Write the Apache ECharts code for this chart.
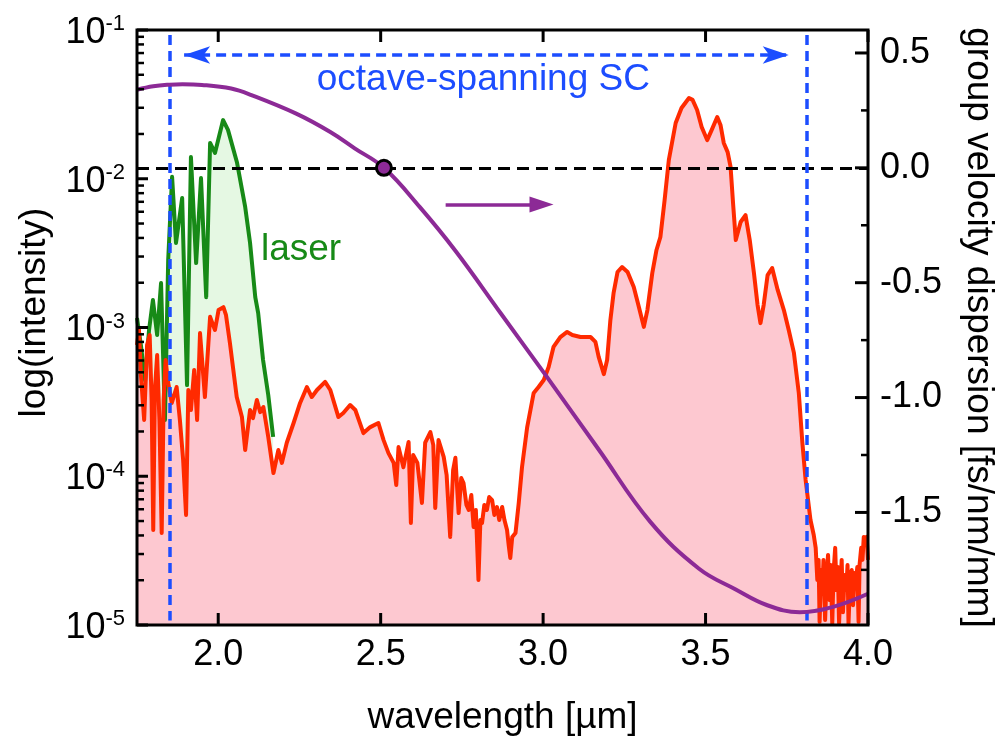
<!DOCTYPE html>
<html>
<head>
<meta charset="utf-8">
<script src="https://cdn.jsdelivr.net/npm/echarts@6/dist/echarts.min.js"></script>
<style>
  html, body { margin: 0; padding: 0; background: #fff; }
  #chart { width: 1007px; height: 736px; }
</style>
</head>
<body>
<div id="chart"></div>
<script>
// Supercontinuum spectrum (red), pump laser spectrum (green) and fibre GVD (purple)

const scWavelength = [
  1.750, 1.756, 1.762, 1.772, 1.781, 1.789, 1.795, 1.800, 1.805, 1.812, 1.819, 1.826, 1.832, 1.838,
  1.846, 1.857, 1.872, 1.882, 1.892, 1.901, 1.908, 1.916, 1.926, 1.935, 1.944, 1.959, 1.975, 1.984,
  1.990, 2.001, 2.016, 2.024, 2.036, 2.057, 2.073, 2.083, 2.098, 2.107, 2.119, 2.129, 2.139, 2.154,
  2.170, 2.185, 2.196, 2.211, 2.232, 2.252, 2.273, 2.288, 2.304, 2.329, 2.345, 2.370, 2.385, 2.406,
  2.422, 2.447, 2.468, 2.493, 2.509, 2.524, 2.540, 2.548, 2.555, 2.570, 2.586, 2.593, 2.600, 2.613,
  2.627, 2.637, 2.653, 2.662, 2.668, 2.678, 2.694, 2.703, 2.714, 2.723, 2.730, 2.740, 2.748, 2.755,
  2.764, 2.771, 2.779, 2.786, 2.793, 2.801, 2.807, 2.812, 2.819, 2.827, 2.834, 2.843, 2.850, 2.858,
  2.865, 2.874, 2.881, 2.889, 2.894, 2.899, 2.905, 2.915, 2.925, 2.935, 2.951, 2.971, 2.986, 3.002,
  3.017, 3.032, 3.053, 3.074, 3.090, 3.115, 3.146, 3.161, 3.171, 3.187, 3.197, 3.207, 3.217, 3.229,
  3.243, 3.260, 3.279, 3.293, 3.310, 3.321, 3.336, 3.349, 3.361, 3.374, 3.387, 3.408, 3.426, 3.449,
  3.460, 3.474, 3.488, 3.505, 3.519, 3.536, 3.546, 3.556, 3.568, 3.577, 3.585, 3.593, 3.608, 3.623,
  3.636, 3.649, 3.660, 3.669, 3.679, 3.691, 3.705, 3.722, 3.741, 3.756, 3.772, 3.787, 3.798, 3.808,
  3.823, 3.833, 3.839, 3.844, 3.848, 3.851, 3.856, 3.860, 3.863, 3.868, 3.873, 3.877, 3.882, 3.885,
  3.890, 3.894, 3.899, 3.903, 3.907, 3.911, 3.916, 3.919, 3.923, 3.928, 3.933, 3.937, 3.940, 3.945,
  3.950, 3.954, 3.959, 3.962, 3.967, 3.971, 3.974, 3.979, 3.983, 3.987, 3.991, 3.996, 4.000
];
const scIntensity = [
  7.62e-4, 9.62e-4, 4.80e-4, 2.39e-4, 7.62e-4, 8.91e-4, 3.26e-4, 4.35e-5, 3.80e-4, 6.53e-4, 2.39e-4, 4.16e-5, 3.26e-4, 6.05e-4,
  4.24e-4, 3.11e-4, 3.98e-4, 2.39e-4, 1.29e-4, 5.49e-5, 3.80e-4, 2.79e-4, 5.18e-4, 2.39e-4, 9.18e-4, 3.41e-4, 1.18e-3, 1.04e-3,
  9.62e-4, 1.31e-3, 1.37e-3, 1.21e-3, 7.87e-4, 3.41e-4, 2.50e-4, 1.50e-4, 2.79e-4, 2.46e-4, 3.26e-4, 2.70e-4, 2.92e-4, 1.84e-4,
  1.05e-4, 1.50e-4, 1.23e-4, 1.68e-4, 2.28e-4, 3.11e-4, 3.98e-4, 3.41e-4, 3.80e-4, 4.31e-4, 3.80e-4, 2.50e-4, 2.66e-4, 3.01e-4,
  2.79e-4, 1.95e-4, 2.14e-4, 2.28e-4, 1.75e-4, 1.43e-4, 1.23e-4, 8.73e-5, 1.57e-4, 1.15e-4, 1.70e-4, 4.85e-5, 1.39e-4, 1.23e-4,
  6.61e-5, 1.68e-4, 1.98e-4, 1.62e-4, 6.12e-5, 1.75e-4, 1.35e-4, 1.02e-4, 3.91e-5, 1.10e-4, 1.33e-4, 5.66e-5, 9.73e-5, 9.01e-5,
  6.41e-5, 5.93e-5, 7.48e-5, 4.56e-5, 5.93e-5, 2.01e-5, 5.08e-5, 4.85e-5, 6.41e-5, 5.93e-5, 7.25e-5, 6.92e-5, 5.49e-5, 6.21e-5,
  5.08e-5, 6.21e-5, 5.08e-5, 4.35e-5, 3.45e-5, 2.82e-5, 3.91e-5, 4.16e-5, 6.61e-5, 1.15e-4, 2.14e-4, 3.63e-4, 3.98e-4, 4.44e-4,
  5.42e-4, 7.40e-4, 8.63e-4, 9.33e-4, 8.91e-4, 8.63e-4, 8.63e-4, 8.00e-4, 6.34e-4, 4.86e-4, 6.05e-4, 1.12e-3, 1.71e-3, 2.36e-3,
  2.55e-3, 2.36e-3, 1.87e-3, 1.42e-3, 1.01e-3, 1.31e-3, 2.32e-3, 3.32e-3, 4.06e-3, 7.19e-3, 1.34e-2, 2.37e-2, 2.99e-2, 3.49e-2,
  3.39e-2, 2.90e-2, 2.23e-2, 1.82e-2, 2.13e-2, 2.60e-2, 2.30e-2, 1.74e-2, 1.51e-2, 1.20e-2, 6.67e-3, 3.87e-3, 5.12e-3, 5.70e-3,
  3.87e-3, 2.32e-3, 1.42e-3, 1.07e-3, 1.42e-3, 2.25e-3, 2.51e-3, 1.79e-3, 1.31e-3, 9.62e-4, 6.75e-4, 3.63e-4, 1.68e-4, 9.44e-5,
  5.08e-5, 4.03e-5, 3.30e-5, 2.01e-5, 2.74e-5, 1.05e-5, 2.34e-5, 1.86e-5, 2.74e-5, 1.08e-5, 2.17e-5, 2.96e-5, 1.47e-5, 2.53e-5,
  1.02e-5, 2.27e-5, 3.30e-5, 1.72e-5, 2.45e-5, 1.03e-5, 2.01e-5, 2.74e-5, 1.22e-5, 2.17e-5, 1.72e-5, 2.53e-5, 1.02e-5, 2.07e-5,
  2.34e-5, 1.36e-5, 2.24e-5, 1.86e-5, 2.45e-5, 1.05e-5, 2.53e-5, 3.30e-5, 2.74e-5, 3.91e-5, 3.73e-5, 3.91e-5, 2.74e-5
];

const laserWavelength = [
  1.750, 1.762, 1.775, 1.787, 1.799, 1.812, 1.824, 1.836, 1.846, 1.858, 1.870, 1.889, 1.904, 1.916,
  1.932, 1.947, 1.963, 1.975, 1.990, 2.015, 2.030, 2.058, 2.083, 2.098, 2.114, 2.123, 2.138, 2.154, 2.169
];
const laserIntensity = [
  1.16e-3, 7.6e-4, 4.4e-4, 9.6e-4, 1.53e-3, 8.9e-4, 1.99e-3, 2.39e-4, 2.84e-3, 1.03e-2, 3.70e-3, 7.43e-3, 4.1e-4, 1.40e-2,
  2.71e-3, 1.01e-2, 1.60e-3, 1.74e-2, 1.49e-2, 2.48e-2, 2.13e-2, 1.28e-2, 6.46e-3, 3.70e-3, 1.60e-3, 1.25e-3, 6.05e-4, 3.52e-4, 1.84e-4
];

const gvdWavelength = [
  1.75, 1.80, 1.85, 1.89, 1.95, 2.04, 2.10, 2.24, 2.345, 2.42, 2.51, 2.62, 2.73, 2.87,
  3.01, 3.17, 3.33, 3.48, 3.59, 3.69, 3.79, 3.89, 4.00
];
const gvdValue = [
  0.340, 0.355, 0.362, 0.364, 0.361, 0.345, 0.318, 0.236, 0.156, 0.085, 0.0, -0.17, -0.361, -0.634,
  -0.907, -1.224, -1.541, -1.745, -1.833, -1.904, -1.934, -1.912, -1.854
];

// zero-dispersion wavelength marked on the GVD curve
const zeroDispersion = [2.51, 0.0];
// limits of the octave-spanning supercontinuum
const scEdges = [1.85, 3.81];

const wavelengthTicks = [2.0, 2.5, 3.0, 3.5, 4.0];
const gvdTicks = [-1.5, -1.0, -0.5, 0.0, 0.5];
const gvdMinorTicks = [-1.75, -1.25, -0.75, -0.25, 0.25];
const intensityTicks = [1e-5, 1e-4, 1e-3, 1e-2, 1e-1];

const zip = (xs, ys) => xs.map((x, i) => [x, ys[i]]);

// minor ticks of the log axis at 2..9 x 10^n
const intensityMinorTicks = [];
for (let e = -5; e < -1; e++) {
  for (let m = 2; m <= 9; m++) intensityMinorTicks.push(+(m * Math.pow(10, e)).toPrecision(3));
}

const FONT = "'Liberation Sans', Arial, Helvetica, sans-serif";
const BLACK = '#000';
const RED = '#ff2a00';
const PINK = '#fdc8d0';
const GREEN = '#178a17';
const LIGHTGREEN = '#e5f8e3';
const PURPLE = '#8c2a96';
const BLUE = '#1c4dff';

const tickLabel = { fontFamily: FONT, fontSize: 36, color: BLACK };

const chart = echarts.init(document.getElementById('chart'), null, { renderer: 'canvas' });

const option = {
  animation: false,
  backgroundColor: '#fff',
  grid: { left: 137, right: 139, top: 30, bottom: 111, outerBoundsMode: 'none' },
  xAxis: [
    {
      type: 'value', position: 'bottom', min: 1.75, max: 4.0,
      name: 'wavelength [µm]', nameLocation: 'middle', nameGap: 74,
      nameTextStyle: { fontFamily: FONT, fontSize: 37, color: BLACK },
      axisLine: { show: false, onZero: false },
      axisTick: { show: false },
      axisLabel: Object.assign({ margin: 12, customValues: wavelengthTicks, formatter: v => v.toFixed(1) }, tickLabel),
      splitLine: { show: false }
    }
  ],
  yAxis: [
    {
      type: 'log', logBase: 10, position: 'left', min: 1e-5, max: 1e-1,
      name: 'log(intensity)', nameLocation: 'middle', nameGap: 84,
      nameTextStyle: { fontFamily: FONT, fontSize: 37, color: BLACK, padding: [0, 0, 0, 30] },
      axisLine: { show: false, onZero: false },
      axisTick: { show: false },
      axisLabel: {
        margin: 12,
        padding: [6, 0, 0, 0],
        formatter: v => '{b|10}{s|' + Math.round(Math.log10(v)) + '}',
        rich: {
          b: { fontFamily: FONT, fontSize: 36, color: BLACK, lineHeight: 40 },
          s: { fontFamily: FONT, fontSize: 22, color: BLACK, lineHeight: 24, verticalAlign: 'top' }
        }
      },
      splitLine: { show: false }
    },
    {
      type: 'value', position: 'right', min: -1.99, max: 0.6,
      name: 'group velocity dispersion [fs/nm/mm]', nameLocation: 'middle', nameGap: 92, nameRotate: -90,
      nameTextStyle: { fontFamily: FONT, fontSize: 37, color: BLACK },
      axisLine: { show: false, onZero: false },
      axisTick: { show: false },
      axisLabel: Object.assign({ margin: 12, customValues: gvdTicks, formatter: v => v.toFixed(1) }, tickLabel),
      splitLine: { show: false }
    }
  ],
  series: [
    {
      name: 'laser fill', type: 'line', xAxisIndex: 0, yAxisIndex: 0, z: 1,
      data: zip(laserWavelength, laserIntensity), showSymbol: false, silent: true,
      lineStyle: { width: 0 }, areaStyle: { color: LIGHTGREEN, opacity: 1, origin: 'start' }
    },
    {
      name: 'SC fill', type: 'line', xAxisIndex: 0, yAxisIndex: 0, z: 2,
      data: zip(scWavelength, scIntensity), showSymbol: false, silent: true,
      lineStyle: { width: 0 }, areaStyle: { color: PINK, opacity: 1, origin: 'start' }
    },
    {
      name: 'laser', type: 'line', xAxisIndex: 0, yAxisIndex: 0, z: 3,
      data: zip(laserWavelength, laserIntensity), showSymbol: false,
      lineStyle: { color: GREEN, width: 4, join: 'round' }
    },
    {
      name: 'supercontinuum', type: 'line', xAxisIndex: 0, yAxisIndex: 0, z: 4,
      data: zip(scWavelength, scIntensity), showSymbol: false,
      lineStyle: { color: RED, width: 4, join: 'round' }
    },
    {
      name: 'GVD', type: 'line', xAxisIndex: 0, yAxisIndex: 1, z: 5,
      data: zip(gvdWavelength, gvdValue), showSymbol: false, smooth: 0.4,
      lineStyle: { color: PURPLE, width: 4 },
      markLine: {
        silent: true, symbol: 'none', label: { show: false },
        lineStyle: { color: BLACK, width: 3, type: [12, 7] },
        data: [{ yAxis: 0 }]
      }
    },
    {
      name: 'annotations', type: 'line', xAxisIndex: 0, yAxisIndex: 1, z: 8,
      data: [],
      markLine: {
        silent: true, symbol: 'none', label: { show: false },
        lineStyle: { color: BLUE, width: 3.5, type: [10, 6] },
        data: [
          [{ coord: [scEdges[0], 0.578] }, { coord: [scEdges[0], -1.97] }],
          [{ coord: [scEdges[1], 0.578] }, { coord: [scEdges[1], -1.97] }],
          [
            { coord: [1.895, 0.491], symbol: 'arrow', symbolSize: [13, 26] },
            { coord: [3.756, 0.491], symbol: 'arrow', symbolSize: [13, 26] }
          ],
          [
            { coord: [2.70, -0.16], symbol: 'none', lineStyle: { color: PURPLE, width: 3.5, type: 'solid' } },
            { coord: [2.995, -0.16], symbol: 'triangle', symbolSize: [16, 24], lineStyle: { color: PURPLE, width: 3.5, type: 'solid' } }
          ]
        ]
      },
      markPoint: {
        silent: true,
        symbol: 'circle', symbolSize: 0,
        label: { show: true, fontFamily: FONT, fontSize: 37 },
        data: [
          { coord: [2.816, 0.385], label: { formatter: 'octave-spanning SC', color: BLUE } },
          { coord: [2.255, -0.357], label: { formatter: 'laser', color: GREEN } }
        ]
      }
    },
    {
      name: 'zero dispersion', type: 'scatter', xAxisIndex: 0, yAxisIndex: 1, z: 9,
      data: [zeroDispersion], symbol: 'circle', symbolSize: 15,
      itemStyle: { color: PURPLE, borderColor: BLACK, borderWidth: 3, opacity: 1 }
    }
  ]
};

chart.setOption(option);

// Plot frame and inward tick marks, positioned through the axes' own scales.
const grid = chart.getModel().getComponent('grid', 0).coordinateSystem.getRect();
const L = grid.x, R = grid.x + grid.width, T = grid.y, B = grid.y + grid.height;
const px = v => chart.convertToPixel({ xAxisIndex: 0 }, v);
const pyLog = v => chart.convertToPixel({ yAxisIndex: 0 }, v);
const pyGvd = v => chart.convertToPixel({ yAxisIndex: 1 }, v);
const tick = (x1, y1, x2, y2, w) => ({
  type: 'line', z: 100, silent: true,
  shape: { x1, y1, x2, y2 }, style: { stroke: BLACK, lineWidth: w }
});
const frameElements = [
  { type: 'rect', z: 100, silent: true, shape: { x: L, y: T, width: R - L, height: B - T },
    style: { fill: null, stroke: BLACK, lineWidth: 3 } }
]
  .concat(wavelengthTicks.map(v => tick(px(v), B, px(v), B - 12, 3)))
  .concat(wavelengthTicks.map(v => tick(px(v), T, px(v), T + 12, 3)))
  .concat(intensityTicks.map(v => tick(L, pyLog(v), L + 11, pyLog(v), 3)))
  .concat(intensityMinorTicks.map(v => tick(L, pyLog(v), L + 7, pyLog(v), 2.5)))
  .concat(gvdTicks.map(v => tick(R, pyGvd(v), R - 13, pyGvd(v), 3)))
  .concat(gvdMinorTicks.map(v => tick(R, pyGvd(v), R - 7, pyGvd(v), 2.5)));

chart.setOption({ graphic: { elements: frameElements } });
</script>
</body>
</html>
